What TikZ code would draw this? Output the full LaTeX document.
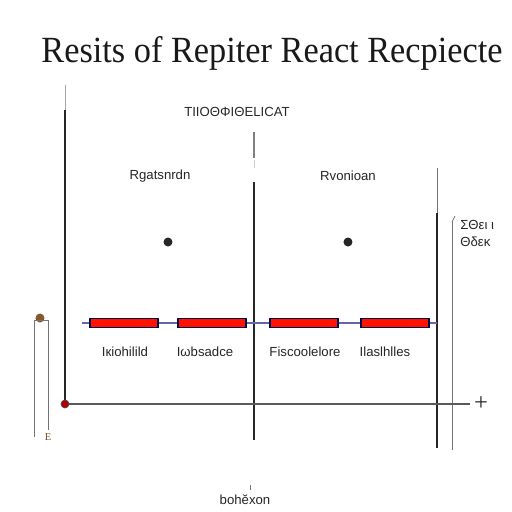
\documentclass[tikz,border=0pt]{standalone}
\usepackage{fontspec}
\setmainfont{Liberation Serif}
\newfontfamily\lsans{Liberation Sans}
\begin{document}
\begin{tikzpicture}[x=0.02cm,y=-0.02cm,
  lbl/.style={font=\lsans\fontsize{7.5}{8}\selectfont, text=black!85, inner sep=0pt},
  axisline/.style={draw=black!85, line width=1.3pt},
  thinline/.style={draw=black!55, line width=0.5pt},
  res/.style={draw=black!70!blue, fill=red!85!orange, line width=0.6pt, minimum width=68*0.02cm, minimum height=9*0.02cm, inner sep=0pt},
  wire/.style={draw=black!55!blue!60, line width=0.9pt},
  dot/.style={circle, fill=black!85, minimum size=9*0.02cm, inner sep=0pt}]
\useasboundingbox (0,0) rectangle (512,512);
% title
\node[font=\fontsize{21}{24}\selectfont, text=black!90, inner sep=0pt] (title) at (272,53) {\scalebox{0.93}[1]{Resits of Repiter React Recpiecte}};
\node[lbl] (head) at (237,112) {TIIOΘΦΙΘΕLICAT};
\node[lbl] (la) at (160,176) {Rgatsnrdn};
\node[lbl] (lb) at (348,176) {Rvonioan};
% coordinates
\coordinate (a1) at (65,85); \coordinate (a2) at (65,110); \coordinate (a0) at (65,404);
\coordinate (m1) at (254,132); \coordinate (m2) at (254,182); \coordinate (m3) at (254,440);
\coordinate (r1) at (437,168); \coordinate (r2) at (437,213); \coordinate (r3) at (437,448);
\coordinate (s1) at (452,222); \coordinate (s2) at (452,450);
\coordinate (h1) at (470,404);
% vertical lines
\draw[thinline, draw=black!35] (a1) -- (a2);
\draw[axisline] (a2) -- (a0);
\draw[thinline, draw=black!50, line width=0.9pt] (m1) -- (254,158);
\draw[thinline, draw=black!20] (254,160) -- (254,168);
\draw[axisline] (m2) -- (m3);
\draw[thinline] (r1) -- (r2);
\draw[axisline] (r2) -- (r3);
\draw[thinline] (s1) -- (s2);
\draw[thinline] (s1) -- (455,216);
% horizontal axis
\draw[thinline, draw=black!65, line width=0.8pt] (a0) -- (h1);
\node[font=\fontsize{14}{14}\selectfont, text=black!85, inner sep=0pt] (plus) at (481,404) {+};
\node[circle, fill=red!70!black, draw=black!70, minimum size=8*0.02cm, inner sep=0pt] (adot) at (a0) {};
% left small box
\node[circle, fill=brown!70!black, minimum size=9*0.02cm, inner sep=0pt] (bdot) at (40,318) {};
\draw[thinline] (34,320) -- (34,437);
\draw[thinline] (48,320) -- (48,430);
\draw[thinline] (34,320) -- (48,320);
\node[font=\fontsize{6}{6}\selectfont, text=brown!60!black, inner sep=0pt] (bx) at (48,437) {E};
% right labels
\node[lbl, anchor=west] (rt1) at (460,225) {ΣΘει ι};
\node[lbl, anchor=west] (rt2) at (460,242) {Θδεκ};
% dots
\node[dot] (d1) at (168,242) {};
\node[dot] (d2) at (348,242) {};
% resistors
\node[res] (R1) at (124,323) {};
\node[res] (R2) at (212,323) {};
\node[res] (R3) at (304,323) {};
\node[res] (R4) at (395,323) {};
\coordinate (w0) at (82,323);
\coordinate (w5) at (437,323);
\draw[wire] (w0) -- (R1.west);
\draw[wire] (R1.east) -- (R2.west);
\draw[wire] (R2.east) -- (R3.west);
\draw[wire] (R3.east) -- (R4.west);
\draw[wire] (R4.east) -- (w5);
% labels under resistors
\node[lbl] (t1) at (125,352) {Iкiohilild};
\node[lbl] (t2) at (205,352) {Ιωbsadce};
\node[lbl] (t3) at (305,352) {Fiscoolelore};
\node[lbl] (t4) at (385,352) {Ilaslhlles};
% bottom
\draw[thinline] (250,485) -- (250,490);
\node[lbl] (bot) at (245,500) {bohĕxon};
\end{tikzpicture}
\end{document}
